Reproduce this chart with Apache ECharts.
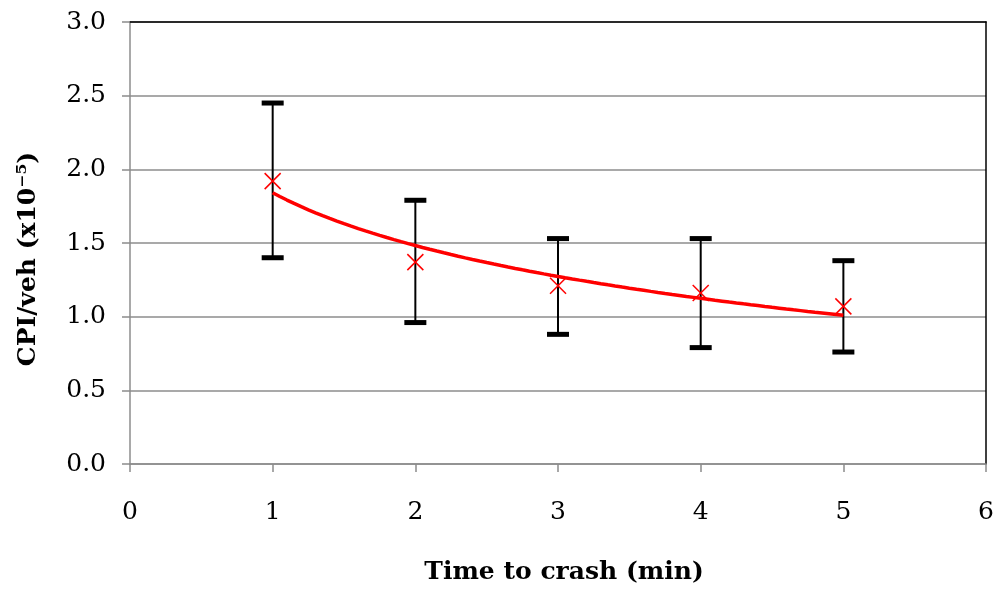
<!DOCTYPE html>
<html><head><meta charset="utf-8">
<script src="https://cdn.jsdelivr.net/npm/echarts@6/dist/echarts.min.js"></script>
<style>html,body{margin:0;padding:0;background:#fff}#c{width:997px;height:589px}</style>
</head><body><div id="c"></div>
<script>
const xValues = [1, 2, 3, 4, 5];
const meanValues = [1.92, 1.37, 1.21, 1.16, 1.07];
const upperValues = [2.45, 1.79, 1.53, 1.53, 1.38];
const lowerValues = [1.40, 0.96, 0.88, 0.79, 0.76];
const xTitle = 'Time to crash (min)';
const yTitle = 'CPI/veh (x10⁻⁵)';

// Logarithmic trendline (least squares fit of mean on ln x), as in the original chart
const lx = xValues.map(Math.log);
const mx = lx.reduce((a, b) => a + b, 0) / lx.length;
const my = meanValues.reduce((a, b) => a + b, 0) / meanValues.length;
let sxy = 0, sxx = 0;
lx.forEach((v, i) => { sxy += (v - mx) * (meanValues[i] - my); sxx += (v - mx) * (v - mx); });
const slope = sxy / sxx, intercept = my - slope * mx;
const trend = [];
for (let i = 0; i <= 80; i++) { const x = 1 + i * 4 / 80; trend.push([x, intercept + slope * Math.log(x)]); }

const font = '"DejaVu Serif", serif';
const chart = echarts.init(document.getElementById('c'));
chart.setOption({
  animation: false,
  grid: { left: 130, right: 8, top: 22, bottom: 125 },
  graphic: [
    { type: 'text', x: 564, y: 572, style: { text: xTitle, fill: '#000', font: 'bold 25px ' + font, textAlign: 'center', textVerticalAlign: 'middle' } },
    { type: 'text', x: 28, y: 259, rotation: Math.PI / 2, style: { text: yTitle, fill: '#000', font: 'bold 25px ' + font, textAlign: 'center', textVerticalAlign: 'middle' } }
  ],
  xAxis: [{
    type: 'value', min: 0, max: 6, interval: 1,
    axisLine: { lineStyle: { color: '#8c8c8c', width: 1.5 } },
    axisTick: { show: true, length: 8, lineStyle: { color: '#8c8c8c', width: 1.5 } },
    splitLine: { show: false },
    axisLabel: { color: '#000', fontFamily: font, fontSize: 25, margin: 36 }
  }, {
    type: 'value', position: 'top', min: 0, max: 6,
    axisLine: { onZero: false, lineStyle: { color: '#000', width: 1.5 } },
    axisTick: { show: false }, axisLabel: { show: false }, splitLine: { show: false }
  }],
  yAxis: [{
    type: 'value', min: 0, max: 3, interval: 0.5,
    axisLine: { show: true, lineStyle: { color: '#8c8c8c', width: 1.5 } },
    axisTick: { show: true, length: 8, lineStyle: { color: '#8c8c8c', width: 1.5 } },
    splitLine: { lineStyle: { color: '#8c8c8c', width: 1.5 } },
    axisLabel: { color: '#000', fontFamily: font, fontSize: 25, margin: 24, formatter: v => v.toFixed(1) }
  }, {
    type: 'value', position: 'right', min: 0, max: 3,
    axisLine: { show: true, onZero: false, lineStyle: { color: '#000', width: 1.5 } },
    axisTick: { show: false }, axisLabel: { show: false }, splitLine: { show: false }
  }],
  series: [{
    type: 'custom',
    data: xValues.map((x, i) => [x, lowerValues[i], upperValues[i]]),
    renderItem: (params, api) => {
      const top = api.coord([api.value(0), api.value(2)]);
      const bot = api.coord([api.value(0), api.value(1)]);
      const hw = 11;
      return { type: 'group', children: [
        { type: 'line', shape: { x1: top[0], y1: top[1], x2: bot[0], y2: bot[1] }, style: { stroke: '#000', lineWidth: 2 } },
        { type: 'line', shape: { x1: top[0] - hw, y1: top[1], x2: top[0] + hw, y2: top[1] }, style: { stroke: '#000', lineWidth: 5 } },
        { type: 'line', shape: { x1: bot[0] - hw, y1: bot[1], x2: bot[0] + hw, y2: bot[1] }, style: { stroke: '#000', lineWidth: 5 } }
      ]};
    },
    z: 2
  }, {
    type: 'line', data: trend, showSymbol: false, symbol: 'none',
    lineStyle: { color: '#ff0000', width: 3.5 }, z: 3
  }, {
    type: 'custom',
    data: xValues.map((x, i) => [x, meanValues[i]]),
    renderItem: (params, api) => {
      const p = api.coord([api.value(0), api.value(1)]);
      const h = 8;
      return { type: 'group', children: [
        { type: 'line', shape: { x1: p[0] - h, y1: p[1] - h, x2: p[0] + h, y2: p[1] + h }, style: { stroke: '#ff0000', lineWidth: 1.5 } },
        { type: 'line', shape: { x1: p[0] - h, y1: p[1] + h, x2: p[0] + h, y2: p[1] - h }, style: { stroke: '#ff0000', lineWidth: 1.5 } }
      ]};
    },
    z: 4
  }]
});
</script></body></html>
